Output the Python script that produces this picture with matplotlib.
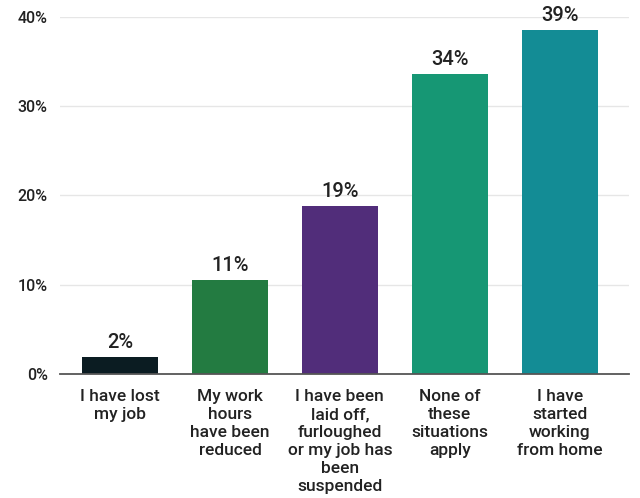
import matplotlib.pyplot as plt
import numpy as np
from decimal import Decimal, ROUND_HALF_UP

# Survey responses: share of respondents in each employment situation
categories = [
    "I have lost\nmy job",
    "My work\nhours\nhave been\nreduced",
    "I have been\nlaid off,\nfurloughed\nor my job has\nbeen\nsuspended",
    "None of\nthese\nsituations\napply",
    "I have\nstarted\nworking\nfrom home",
]
shares = [1.9, 10.5, 18.8, 33.6, 38.5]
colors = ["#0b1c22", "#237b41", "#512d7a", "#169774", "#138c95"]
yticks = [0, 10, 20, 30, 40]

plt.rcParams['font.family'] = ['Roboto', 'DejaVu Sans']
text_color = "#222222"


def pct(v):
    # round half up so 10.5 reads as 11%
    return f"{Decimal(str(v)).quantize(Decimal('1'), rounding=ROUND_HALF_UP)}%"


fig = plt.figure(figsize=(6.4, 4.98), dpi=100)
ax = fig.add_axes([0.094, 0.249, 0.889, 0.717])

x = np.arange(len(categories))
ax.bar(x, shares, width=0.69, color=colors, zorder=3)

for xi, v in zip(x, shares):
    ax.text(xi, v + 0.6, pct(v), ha='center', va='bottom',
            fontsize=14.5, fontweight='medium', color=text_color)

ax.set_ylim(0, 40)
ax.set_xlim(-0.545, 4.632)
ax.set_yticks(yticks)
ax.set_yticklabels([f"{t}%" for t in yticks], fontsize=11.5,
                   fontweight='medium', color=text_color)
ax.set_xticks(x)
ax.set_xticklabels(categories, fontsize=12.5, fontweight='medium',
                   color=text_color, linespacing=1.24)
ax.tick_params(axis='both', length=0)
ax.tick_params(axis='x', pad=11)
ax.tick_params(axis='y', pad=9)

ax.grid(axis='y', color='#e6e6e6', linewidth=1, zorder=0)
for side in ['top', 'right', 'left']:
    ax.spines[side].set_visible(False)
ax.spines['bottom'].set_color('#555555')
ax.spines['bottom'].set_linewidth(1.3)
ax.spines['bottom'].set_zorder(4)

fig.savefig('out.png', dpi=100)
